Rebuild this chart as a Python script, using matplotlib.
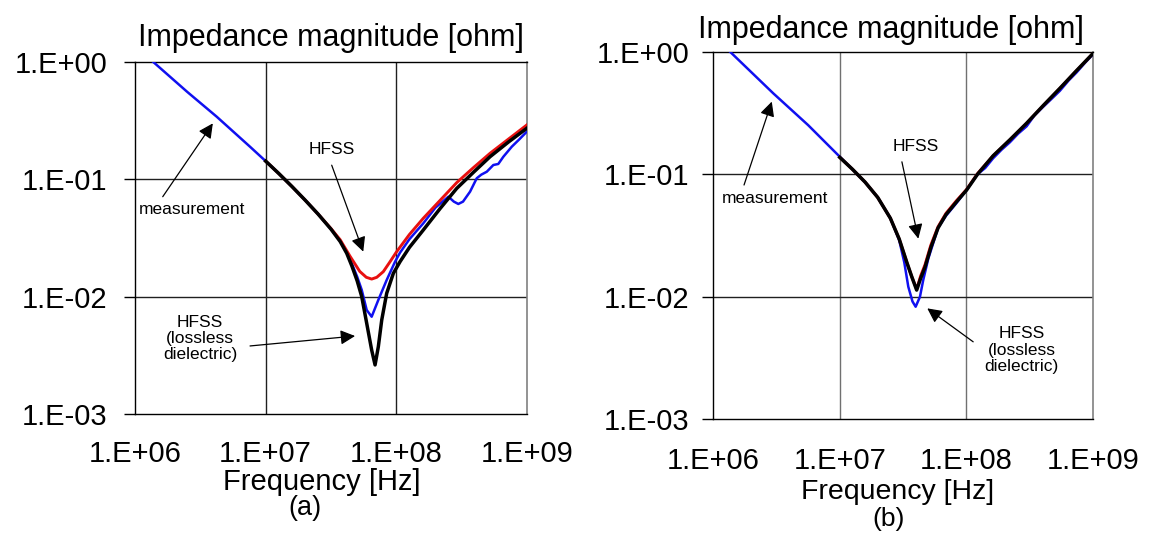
import numpy as np
import matplotlib
matplotlib.use("Agg")
import matplotlib.pyplot as plt

plt.rcParams['font.family'] = ['Liberation Sans', 'DejaVu Sans']

# values are log10(frequency / Hz) and log10(|Z| / ohm)
# (a) measurement
meas_a_f = [6.14, 6.40, 6.625, 6.88, 7.0, 7.1, 7.2, 7.3, 7.4, 7.5, 7.57, 7.62, 7.66,
            7.70, 7.735, 7.773, 7.811, 7.862, 7.926, 7.99, 8.028, 8.10, 8.206, 8.30, 8.398, 8.44,
            8.474, 8.51, 8.564, 8.615, 8.65, 8.692, 8.742, 8.78, 8.819, 8.883, 8.94, 8.998]
meas_a_z = [0.0, -0.255, -0.466, -0.722, -0.845, -0.95, -1.06, -1.175, -1.295, -1.425, -1.525, -1.62, -1.72,
            -1.83, -1.943, -2.114, -2.171, -2.028, -1.858, -1.702, -1.625, -1.51, -1.375, -1.24, -1.148, -1.19,
            -1.21, -1.19, -1.105, -0.991, -0.96, -0.935, -0.878, -0.869, -0.807, -0.722, -0.66, -0.594]
# (a) HFSS
hfss_a_f = [7.0, 7.1, 7.2, 7.3, 7.4, 7.5, 7.57, 7.645, 7.72, 7.77, 7.811, 7.85, 7.90,
            7.95, 8.0, 8.05, 8.10, 8.206, 8.334, 8.462, 8.59, 8.717, 8.86, 8.998]
hfss_a_z = [-0.845, -0.95, -1.06, -1.175, -1.295, -1.42, -1.515, -1.655, -1.785, -1.835, -1.850, -1.835, -1.787,
            -1.705, -1.62, -1.545, -1.47, -1.332, -1.18, -1.028, -0.90, -0.778, -0.655, -0.537]
# (a) HFSS, lossless dielectric
lossless_a_f = [7.0, 7.1, 7.2, 7.3, 7.4, 7.5, 7.57, 7.62, 7.66, 7.70, 7.735, 7.773, 7.811, 7.837,
                7.862, 7.888, 7.926, 7.977, 8.028, 8.10, 8.206, 8.334, 8.462, 8.59, 8.717, 8.86, 8.998]
lossless_a_z = [-0.845, -0.95, -1.06, -1.175, -1.295, -1.425, -1.53, -1.63, -1.74, -1.865, -2.0, -2.227, -2.455, -2.582,
                -2.426, -2.199, -1.971, -1.801, -1.702, -1.58, -1.432, -1.25, -1.077, -0.94, -0.807, -0.68, -0.565]

# (b) measurement
meas_b_f = [6.132, 6.474, 6.75, 7.0, 7.1, 7.2, 7.3, 7.4, 7.47, 7.51, 7.542, 7.575, 7.600, 7.634,
            7.660, 7.70, 7.777, 7.84, 7.92, 8.003, 8.09, 8.15, 8.213, 8.28, 8.345, 8.41, 8.477,
            8.54, 8.609, 8.68, 8.740, 8.81, 8.872, 8.94, 9.004]
meas_b_z = [0.0, -0.340, -0.60, -0.858, -0.96, -1.065, -1.19, -1.36, -1.54, -1.72, -1.920, -2.04, -2.083, -2.002,
            -1.865, -1.69, -1.44, -1.34, -1.24, -1.13, -1.0, -0.95, -0.87, -0.80, -0.74, -0.67, -0.61,
            -0.52, -0.45, -0.38, -0.32, -0.235, -0.17, -0.09, -0.02]
# (b) HFSS
hfss_b_f = [7.0, 7.1, 7.2, 7.3, 7.4, 7.47, 7.53, 7.57, 7.608, 7.640, 7.674, 7.72, 7.777,
            7.84, 7.92, 8.003, 8.09, 8.213, 8.345, 8.477, 8.609, 8.740, 8.872, 9.004]
hfss_b_z = [-0.863, -0.96, -1.065, -1.19, -1.36, -1.53, -1.72, -1.84, -1.94, -1.83, -1.74, -1.58, -1.43,
            -1.32, -1.22, -1.125, -0.995, -0.85, -0.72, -0.585, -0.44, -0.30, -0.155, -0.013]
# (b) HFSS, lossless dielectric
lossless_b_f = [7.0, 7.1, 7.2, 7.3, 7.4, 7.47, 7.53, 7.57, 7.608, 7.640, 7.674, 7.72, 7.777,
                7.84, 7.92, 8.003, 8.09, 8.213, 8.345, 8.477, 8.609, 8.740, 8.872, 9.004]
lossless_b_z = [-0.863, -0.96, -1.065, -1.19, -1.36, -1.53, -1.72, -1.84, -1.947, -1.85, -1.76, -1.60, -1.44,
                -1.33, -1.23, -1.13, -1.0, -0.85, -0.72, -0.585, -0.44, -0.30, -0.155, -0.013]

freq_ticks = [1e6, 1e7, 1e8, 1e9]
freq_labels = ["1.E+06", "1.E+07", "1.E+08", "1.E+09"]
z_ticks = [1e-3, 1e-2, 1e-1, 1e0]
z_labels = ["1.E-03", "1.E-02", "1.E-01", "1.E+00"]


def setup_axes(ax, vgrid, xpad, ypad):
    ax.set_xscale('log')
    ax.set_yscale('log')
    ax.set_xlim(1e6, 1e9)
    ax.set_ylim(1e-3, 1e0)
    ax.set_xticks(freq_ticks, freq_labels)
    ax.set_yticks(z_ticks, z_labels)
    ax.minorticks_off()
    ax.tick_params(axis='x', length=0, pad=xpad, labelsize=21)
    ax.tick_params(axis='y', length=8, width=1, pad=ypad, labelsize=21, direction='out')
    ax.grid(False)
    for t in freq_ticks[1:-1]:
        ax.axvline(t, color=vgrid, lw=1, zorder=1)
    for t in z_ticks[1:-1]:
        ax.axhline(t, color='#202020', lw=1, zorder=1)
    for s in ['left', 'top', 'bottom']:
        ax.spines[s].set_color('black')
        ax.spines[s].set_linewidth(1)
    ax.spines['right'].set_color('#808080')
    ax.spines['right'].set_linewidth(1.2)


def draw_curves(ax, mf, mz, hf, hz, lf, lz):
    ax.plot(10 ** np.array(mf), 10 ** np.array(mz), color='#1010f0', lw=1.8, zorder=3)
    ax.plot(10 ** np.array(hf), 10 ** np.array(hz), color='#e81010', lw=2.1, zorder=4)
    ax.plot(10 ** np.array(lf), 10 ** np.array(lz), color='black', lw=2.5, zorder=5)


def label(ax, text, pos, start, tip):
    ax.text(pos[0], pos[1], text, ha='center', va='center', fontsize=12.5,
            linespacing=1.1, zorder=6)
    ax.annotate('', xy=tip, xytext=start,
                arrowprops=dict(arrowstyle='-|>', color='black', lw=0.9,
                                mutation_scale=22, shrinkA=0, shrinkB=0),
                zorder=6)


fig = plt.figure(figsize=(11.49, 5.35), dpi=100)
ax_a = fig.add_axes([0.1175, 0.2262, 0.3412, 0.6579])
ax_b = fig.add_axes([0.6208, 0.2168, 0.3302, 0.6866])

setup_axes(ax_a, '#202020', 19, 12)
setup_axes(ax_b, '#707070', 20, 9)

draw_curves(ax_a, meas_a_f, meas_a_z, hfss_a_f, hfss_a_z, lossless_a_f, lossless_a_z)
draw_curves(ax_b, meas_b_f, meas_b_z, hfss_b_f, hfss_b_z, lossless_b_f, lossless_b_z)

# annotations, panel (a)
label(ax_a, "HFSS", (3.2e7, 0.178), (3.2e7, 0.132), (5.58e7, 0.0242))
label(ax_a, "measurement", (2.72e6, 0.0548), (1.63e6, 0.0711), (3.94e6, 0.300))
label(ax_a, "HFSS\n(lossless\ndielectric)", (3.14e6, 0.00442), (7.59e6, 0.0038), (4.83e7, 0.00462))

# annotations, panel (b)
label(ax_b, "HFSS", (3.98e7, 0.1675), (3.10e7, 0.126), (4.18e7, 0.0297))
label(ax_b, "measurement", (3.08e6, 0.0634), (1.75e6, 0.0815), (2.90e6, 0.391))
label(ax_b, "HFSS\n(lossless\ndielectric)", (2.74e8, 0.00366), (1.135e8, 0.00427), (4.92e7, 0.00801))

# titles and axis captions
fig.text(331 / 1149, 1 - 45.7 / 535, "Impedance magnitude [ohm]", ha='center', va='baseline', fontsize=22)
fig.text(891 / 1149, 1 - 37.6 / 535, "Impedance magnitude [ohm]", ha='center', va='baseline', fontsize=22)
fig.text(322 / 1149, 1 - 490 / 535, "Frequency [Hz]", ha='center', va='baseline', fontsize=21)
fig.text(898 / 1149, 1 - 499 / 535, "Frequency [Hz]", ha='center', va='baseline', fontsize=20.5)
fig.text(305 / 1149, 1 - 515 / 535, "(a)", ha='center', va='baseline', fontsize=19.5)
fig.text(889 / 1149, 1 - 526 / 535, "(b)", ha='center', va='baseline', fontsize=19)

fig.savefig("out.png", dpi=100)
